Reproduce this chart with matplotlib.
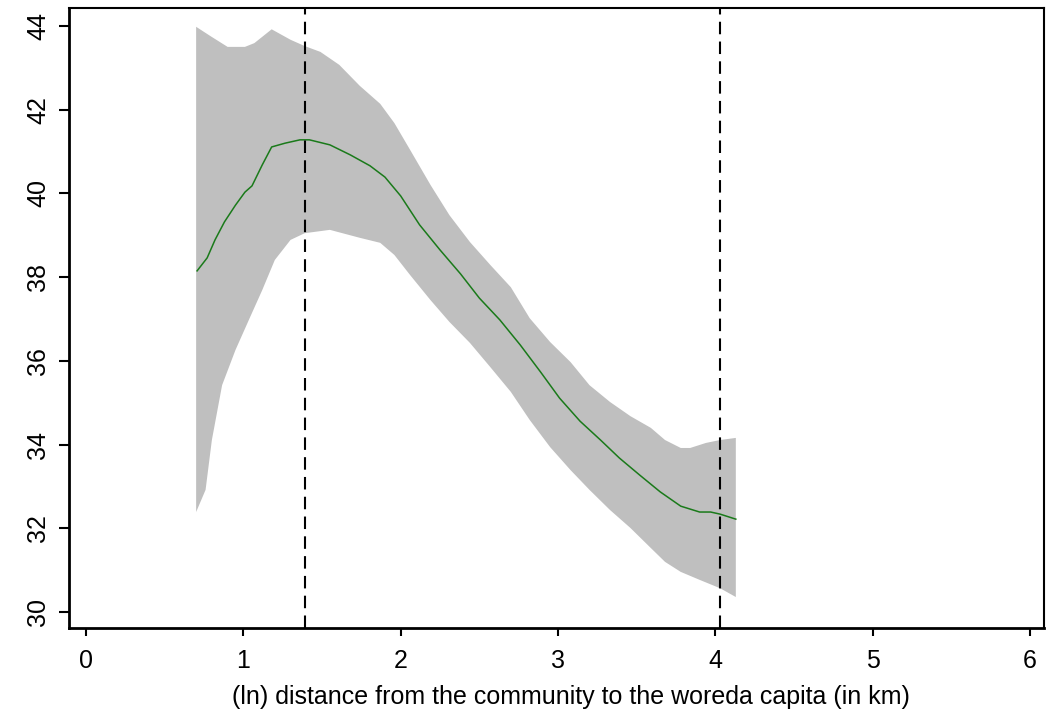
import numpy as np
import matplotlib
matplotlib.use('Agg')
import matplotlib.pyplot as plt

plt.rcParams['font.family'] = ['Liberation Sans', 'DejaVu Sans']

# fitted line
x_fit = [0.706, 0.77, 0.82, 0.88, 0.95, 1.01, 1.055, 1.12, 1.18, 1.265, 1.36, 1.42,
         1.55, 1.68, 1.805, 1.90, 2.0, 2.12, 2.25, 2.38, 2.5, 2.63, 2.76, 2.89,
         3.01, 3.14, 3.27, 3.39, 3.52, 3.65, 3.78, 3.90, 3.97, 4.03, 4.13]
y_fit = [38.15, 38.46, 38.89, 39.32, 39.72, 40.03, 40.18, 40.68, 41.11, 41.20, 41.28, 41.28,
         41.16, 40.92, 40.66, 40.39, 39.94, 39.25, 38.65, 38.08, 37.50, 36.98, 36.38, 35.73,
         35.11, 34.56, 34.11, 33.68, 33.27, 32.87, 32.53, 32.39, 32.39, 32.34, 32.22]

# upper confidence bound
x_up = [0.70, 0.79, 0.90, 1.01, 1.07, 1.18, 1.30, 1.39, 1.49, 1.61, 1.74, 1.87, 1.96,
        2.06, 2.19, 2.31, 2.44, 2.57, 2.70, 2.82, 2.95, 3.08, 3.20, 3.33, 3.46, 3.59,
        3.68, 3.78, 3.84, 3.94, 4.03, 4.13]
y_up = [43.98, 43.76, 43.50, 43.50, 43.59, 43.92, 43.67, 43.52, 43.38, 43.07, 42.57, 42.14, 41.68,
        41.04, 40.20, 39.48, 38.84, 38.29, 37.76, 37.02, 36.45, 35.97, 35.42, 35.02, 34.68, 34.40,
        34.11, 33.92, 33.92, 34.04, 34.11, 34.16]

# lower confidence bound
x_lo = [0.70, 0.76, 0.80, 0.865, 0.95, 1.04, 1.12, 1.20, 1.30, 1.39, 1.55, 1.74, 1.87,
        1.96, 2.06, 2.19, 2.31, 2.44, 2.57, 2.70, 2.82, 2.95, 3.08, 3.20, 3.33, 3.46,
        3.59, 3.68, 3.78, 3.90, 4.03, 4.13]
y_lo = [32.39, 32.92, 34.11, 35.42, 36.26, 37.02, 37.69, 38.41, 38.89, 39.05, 39.13, 38.94, 38.82,
        38.53, 38.05, 37.45, 36.93, 36.43, 35.85, 35.26, 34.59, 33.94, 33.39, 32.92, 32.44, 32.01,
        31.53, 31.20, 30.96, 30.77, 30.57, 30.36]

vlines = [1.39, 4.03]
x_ticks = [0, 1, 2, 3, 4, 5, 6]
y_ticks = [30, 32, 34, 36, 38, 40, 42, 44]

fig = plt.figure(figsize=(10.6, 7.23), dpi=100)
ax = fig.add_axes([0.0651, 0.1314, 0.92, 0.8576])

ax.fill(np.concatenate([x_up, x_lo[::-1]]), np.concatenate([y_up, y_lo[::-1]]),
        color='#bfbfbf', lw=0)
ax.plot(x_fit, y_fit, color='#1a7a1a', lw=1.1)
for v in vlines:
    ax.axvline(v, color='black', lw=1.5, dashes=(6, 3.5))

ax.set_xlim(-0.108, 6.09)
ax.set_ylim(29.62, 44.43)
ax.set_xticks(x_ticks)
ax.set_yticks(y_ticks)
ax.tick_params(axis='x', length=6, width=1.5, labelsize=18, pad=9)
ax.tick_params(axis='y', length=7.5, width=1.5, labelsize=18, pad=6)
for lab in ax.get_yticklabels():
    lab.set_rotation(90)
    lab.set_va('center')
for s in ['left', 'bottom']:
    ax.spines[s].set_linewidth(2.0)
for s in ['top', 'right']:
    ax.spines[s].set_linewidth(1.5)

ax.set_xlabel('(ln) distance from the community to the woreda capita (in km)', fontsize=18)
ax.xaxis.set_label_coords(0.515, -0.111)
ax.xaxis.label.set_va('center')

plt.savefig('out.png', dpi=100)
